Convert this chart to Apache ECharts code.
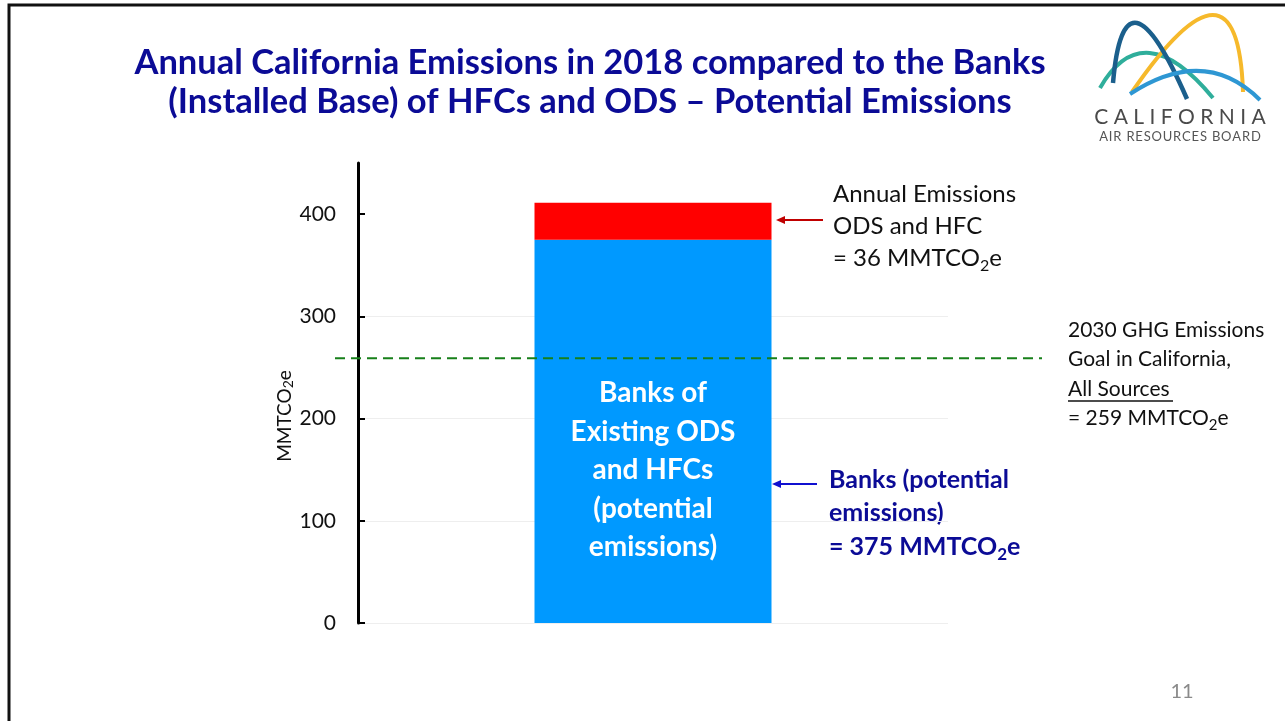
<!DOCTYPE html>
<html>
<head>
<meta charset="utf-8">
<title>Annual California Emissions vs Banks</title>
<script src="https://cdn.jsdelivr.net/npm/echarts@6/dist/echarts.min.js"></script>
<style>
  html, body { margin: 0; padding: 0; background: #fff; }
  #chart { width: 1285px; height: 721px; }
</style>
</head>
<body>
<div id="chart"></div>
<script>
// data
const categories = ['2018']
const banks = [375]          // MMTCO2e, installed base
const annual = [36]          // MMTCO2e, annual emissions
const goal2030 = [259]       // MMTCO2e, 2030 goal, all sources
const yTicks = [0, 100, 200, 300, 400]

const FONT = 'Lato, "Open Sans", sans-serif'
const NAVY = '#0b0b96'

const chart = echarts.init(document.getElementById('chart'))

// subscript style for the "2" in MMTCO2e
const sub = (size, lh, extra) => Object.assign({ fontSize: size, lineHeight: lh, verticalAlign: 'bottom', fontFamily: FONT }, extra)
// spread letters a bit (logo text)
const spaced = (s, gap) => s.split('').join(gap)

chart.setOption({
  backgroundColor: '#fff',
  animation: false,
  grid: [
    { left: 358, right: 337, top: 163, bottom: 98 },
    // wider grid only for the goal line, it runs past the plot
    { left: 335, right: 243, top: 163, bottom: 98 }
  ],
  xAxis: [
    { type: 'category', data: categories, gridIndex: 0, show: false },
    { type: 'value', min: 0, max: 1, gridIndex: 1, show: false }
  ],
  yAxis: [
    {
      type: 'value', gridIndex: 0, min: 0, max: 450, interval: 100,
      axisLine: { show: true, lineStyle: { color: '#000', width: 3 } },
      axisTick: { show: true, inside: true, length: 7, lineStyle: { color: '#000', width: 2 }, customValues: yTicks },
      axisLabel: { color: '#111', fontSize: 21, fontFamily: FONT, margin: 22, customValues: yTicks },
      splitLine: { show: true, showMaxLine: false, lineStyle: { color: '#eeeeee', width: 1 } },
      name: '{n|MMTCO}{s|2}{n|e}',
      nameLocation: 'middle',
      nameGap: 62,
      nameTextStyle: {
        padding: [0, 46, 0, 0],
        rich: {
          n: { fontSize: 19, color: '#111', fontFamily: FONT, lineHeight: 22 },
          s: { fontSize: 14, color: '#111', fontFamily: FONT, lineHeight: 12, verticalAlign: 'bottom' }
        }
      }
    },
    { type: 'value', gridIndex: 1, min: 0, max: 450, show: false }
  ],
  series: [
    {
      name: 'Banks', type: 'bar', stack: 'total', data: banks,
      xAxisIndex: 0, yAxisIndex: 0, barWidth: 237,
      itemStyle: { color: '#0099ff' },
      label: {
        show: true, position: 'inside', offset: [0, 39],
        formatter: 'Banks of\nExisting ODS\nand HFCs\n(potential\nemissions)',
        color: '#fff', fontWeight: 'bold', fontSize: 28, lineHeight: 38.5, fontFamily: FONT, align: 'center'
      }
    },
    {
      name: 'Annual emissions', type: 'bar', stack: 'total', data: annual,
      xAxisIndex: 0, yAxisIndex: 0, barWidth: 237,
      itemStyle: { color: '#ff0000' }
    },
    {
      name: '2030 goal', type: 'line', xAxisIndex: 1, yAxisIndex: 1,
      data: [[0, goal2030[0]], [1, goal2030[0]]],
      symbol: 'none', z: 5,
      lineStyle: { color: '#17801a', width: 2, type: [10, 6] }
    }
  ],
  graphic: [
    // slide frame
    { type: 'rect', shape: { x: 9, y: 5, width: 1300, height: 740 }, style: { fill: 'none', stroke: '#111', lineWidth: 3 }, silent: true },
    // title
    {
      type: 'text', x: 590, y: 82,
      style: {
        text: 'Annual California Emissions in 2018 compared to the Banks\n(Installed Base) of HFCs and ODS – Potential Emissions',
        align: 'center', verticalAlign: 'middle', fill: NAVY, fontWeight: 'bold',
        fontSize: 34.5, lineHeight: 39, fontFamily: FONT
      }
    },
    // annual emissions callout
    {
      type: 'text', x: 833, y: 226,
      style: {
        text: '{n|Annual Emissions}\n{n|ODS and HFC}\n{n|= 36 MMTCO}{s|2}{n|e}',
        verticalAlign: 'middle',
        rich: { n: { fontSize: 24, lineHeight: 32, fill: '#111', fontFamily: FONT }, s: sub(16, 18, { fill: '#111' }) }
      }
    },
    { type: 'line', shape: { x1: 823, y1: 220, x2: 782, y2: 220 }, style: { stroke: '#c00000', lineWidth: 2 } },
    { type: 'polygon', shape: { points: [[776, 220], [785, 216], [785, 224]] }, style: { fill: '#c00000' } },
    // banks callout
    {
      type: 'text', x: 829, y: 513,
      style: {
        text: '{n|Banks (potential}\n{n|emissions)}\n{n|= 375 MMTCO}{s|2}{n|e}',
        verticalAlign: 'middle',
        rich: { n: { fontSize: 25, lineHeight: 33.5, fill: NAVY, fontWeight: 'bold', fontFamily: FONT }, s: sub(17, 19, { fill: NAVY, fontWeight: 'bold' }) }
      }
    },
    { type: 'line', shape: { x1: 817, y1: 484, x2: 777, y2: 484 }, style: { stroke: '#1010d0', lineWidth: 2 } },
    { type: 'polygon', shape: { points: [[772, 484], [781, 480], [781, 488]] }, style: { fill: '#1010d0' } },
    // 2030 goal callout
    {
      type: 'text', x: 1068, y: 374,
      style: {
        text: '{n|2030 GHG Emissions}\n{n|Goal in California,}\n{n|All Sources}\n{n|= 259 MMTCO}{s|2}{n|e}',
        verticalAlign: 'middle',
        rich: { n: { fontSize: 21, lineHeight: 29.5, fill: '#111', fontFamily: FONT }, s: sub(15, 17, { fill: '#111' }) }
      }
    },
    { type: 'line', shape: { x1: 1068, y1: 401, x2: 1173, y2: 401 }, style: { stroke: '#111', lineWidth: 1.3 } },
    // page number
    { type: 'text', x: 1182, y: 692, style: { text: '11', align: 'center', verticalAlign: 'middle', fill: '#8a8a8a', fontSize: 20, fontFamily: FONT } },
    // CARB logo
    { type: 'bezierCurve', shape: { x1: 1100, y1: 88, cpx1: 1143, cpy1: 13, x2: 1213, y2: 98 }, style: { stroke: '#2fae9b', lineWidth: 4, fill: 'none' } },
    { type: 'bezierCurve', shape: { x1: 1132, y1: 92, cpx1: 1238, cpy1: -62, x2: 1243, y2: 92 }, style: { stroke: '#f6b92b', lineWidth: 4, fill: 'none' } },
    { type: 'bezierCurve', shape: { x1: 1113, y1: 83, cpx1: 1124, cpy1: -45, x2: 1187, y2: 99 }, style: { stroke: '#1b5f8c', lineWidth: 4.5, fill: 'none' } },
    { type: 'bezierCurve', shape: { x1: 1130, y1: 94, cpx1: 1205, cpy1: 45, x2: 1260, y2: 100 }, style: { stroke: '#2e97d3', lineWidth: 4, fill: 'none' } },
    { type: 'text', x: 1180, y: 117, style: { text: spaced('CALIFORNIA', ' '), align: 'center', verticalAlign: 'middle', fill: '#4a4a4a', fontSize: 21, fontFamily: FONT } },
    { type: 'text', x: 1180, y: 137, style: { text: spaced('AIR RESOURCES BOARD', '\u200A'), align: 'center', verticalAlign: 'middle', fill: '#555', fontSize: 13, fontFamily: FONT } }
  ]
})
</script>
</body>
</html>
